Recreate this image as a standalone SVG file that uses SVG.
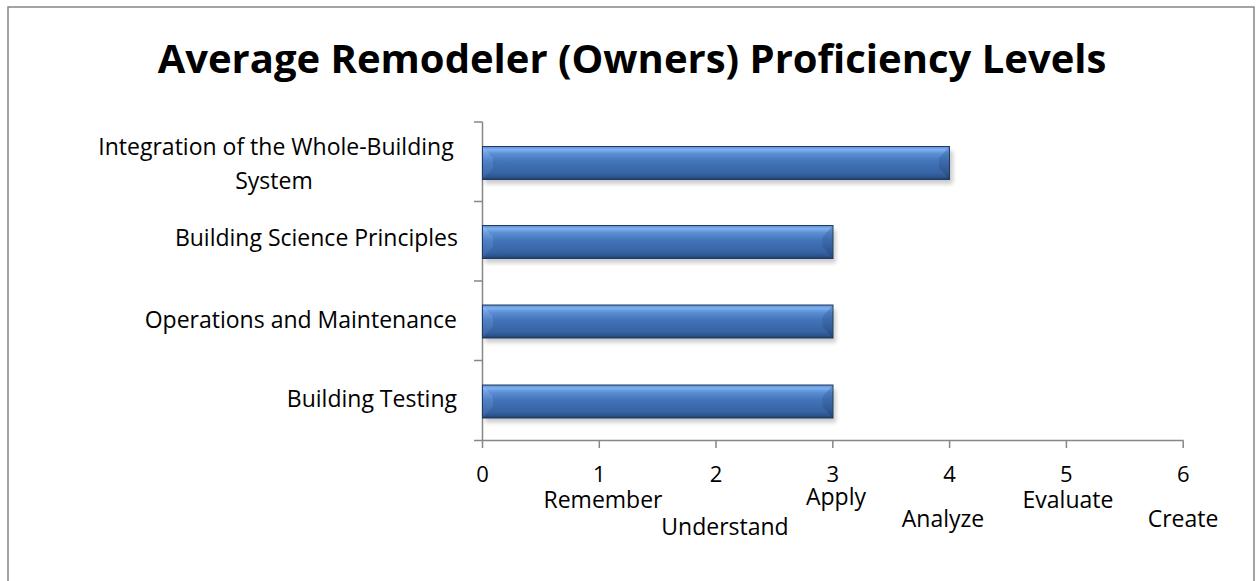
<svg xmlns="http://www.w3.org/2000/svg" width="1257" height="581" viewBox="0 0 1257 581">
  <style>
    .title { font-family: "Open Sans", "Liberation Sans", sans-serif; font-weight: bold; font-size: 40px; fill: #000; }
    .lbl { font-family: "Open Sans", "Liberation Sans", sans-serif; font-size: 23px; fill: #000; }
    .num { font-family: "Open Sans", "Liberation Sans", sans-serif; font-size: 22px; fill: #000; }
    .axis { stroke: #878787; stroke-width: 1.5; fill: none; }
    .bar { fill: url(#barGrad); stroke: #1e3a63; stroke-width: 1; }
    .bevL { fill: url(#bevLGrad); }
    .bevR { fill: url(#bevRGrad); }
    .shadow { fill: #000; opacity: 0.2; filter: url(#blur); }
  </style>
  <defs>
    <linearGradient id="barGrad" x1="0" y1="0" x2="0" y2="1">
      <stop offset="0" stop-color="#5d8fd2"/>
      <stop offset="0.1" stop-color="#7fb0ef"/>
      <stop offset="0.22" stop-color="#5b8ed4"/>
      <stop offset="0.45" stop-color="#4274b9"/>
      <stop offset="0.8" stop-color="#3764a4"/>
      <stop offset="0.92" stop-color="#2d5690"/>
      <stop offset="1" stop-color="#1f3c68"/>
    </linearGradient>
    <linearGradient id="bevLGrad" x1="0" y1="0" x2="0" y2="1">
      <stop offset="0" stop-color="#9cc6f7" stop-opacity="0.45"/>
      <stop offset="0.5" stop-color="#6b9cdd" stop-opacity="0.3"/>
      <stop offset="1" stop-color="#4a7cc0" stop-opacity="0.25"/>
    </linearGradient>
    <linearGradient id="bevRGrad" x1="0" y1="0" x2="0" y2="1">
      <stop offset="0" stop-color="#1f3d6c" stop-opacity="0.25"/>
      <stop offset="0.5" stop-color="#1f3d6c" stop-opacity="0.2"/>
      <stop offset="1" stop-color="#14294a" stop-opacity="0.3"/>
    </linearGradient>
    <filter id="blur" x="-5%" y="-50%" width="110%" height="200%">
      <feGaussianBlur stdDeviation="2"/>
    </filter>
  </defs>

  <rect id="frame" x="8" y="7" width="1246" height="600" fill="#fff" stroke="#878787" stroke-width="1.5"/>

  <g id="title">
    <text class="title" x="632" y="73" text-anchor="middle">Average Remodeler (Owners) Proficiency Levels</text>
  </g>

  <g id="axes">
    <path class="axis" d="M482.5 122 V440.5 M474 122 H482.5 M474 201.5 H482.5 M474 281 H482.5 M474 360.5 H482.5 M474 440.5 H1183.5"/>
    <path class="axis" d="M482.5 440.5 V448 M599.3 440.5 V448 M716 440.5 V448 M832.8 440.5 V448 M949.6 440.5 V448 M1066.4 440.5 V448 M1183.2 440.5 V448"/>
  </g>

  <g id="category-labels">
    <text class="lbl" x="276" y="155" text-anchor="middle">Integration of the Whole-Building</text>
    <text class="lbl" x="274" y="189" text-anchor="middle">System</text>
    <text class="lbl" x="458" y="246" text-anchor="end">Building Science Principles</text>
    <text class="lbl" x="457" y="328" text-anchor="end">Operations and Maintenance</text>
    <text class="lbl" x="457" y="407" text-anchor="end">Building Testing</text>
  </g>

  <g id="value-labels">
    <text class="num" x="482.5" y="482" text-anchor="middle">0</text>
    <text class="num" x="599.3" y="482" text-anchor="middle">1</text>
    <text class="lbl" x="603" y="508" text-anchor="middle">Remember</text>
    <text class="num" x="716" y="482" text-anchor="middle">2</text>
    <text class="lbl" x="725" y="535" text-anchor="middle">Understand</text>
    <text class="num" x="832.8" y="482" text-anchor="middle">3</text>
    <text class="lbl" x="836" y="505" text-anchor="middle">Apply</text>
    <text class="num" x="949.6" y="482" text-anchor="middle">4</text>
    <text class="lbl" x="943" y="527" text-anchor="middle">Analyze</text>
    <text class="num" x="1066.4" y="482" text-anchor="middle">5</text>
    <text class="lbl" x="1068" y="508" text-anchor="middle">Evaluate</text>
    <text class="num" x="1183.2" y="482" text-anchor="middle">6</text>
    <text class="lbl" x="1183" y="527" text-anchor="middle">Create</text>
  </g>

  <g id="bar-integration">
    <rect class="shadow" x="485" y="151" width="468" height="33"/>
    <rect class="bar" x="482.5" y="146.5" width="467" height="33"/>
    <polygon class="bevL" points="483,147 493,158 493,168 483,179"/>
    <polygon class="bevR" points="949,147 939,158 939,168 949,179"/>
  </g>
  <g id="bar-science">
    <rect class="shadow" x="485" y="230" width="351" height="33"/>
    <rect class="bar" x="482.5" y="225.5" width="350.5" height="33"/>
    <polygon class="bevL" points="483,226 493,237 493,247 483,258"/>
    <polygon class="bevR" points="832.5,226 822.5,237 822.5,247 832.5,258"/>
  </g>
  <g id="bar-operations">
    <rect class="shadow" x="485" y="309.5" width="351" height="33"/>
    <rect class="bar" x="482.5" y="305" width="350.5" height="33"/>
    <polygon class="bevL" points="483,305.5 493,316.5 493,326.5 483,337.5"/>
    <polygon class="bevR" points="832.5,305.5 822.5,316.5 822.5,326.5 832.5,337.5"/>
  </g>
  <g id="bar-testing">
    <rect class="shadow" x="485" y="389.5" width="351" height="33"/>
    <rect class="bar" x="482.5" y="385" width="350.5" height="33"/>
    <polygon class="bevL" points="483,385.5 493,396.5 493,406.5 483,417.5"/>
    <polygon class="bevR" points="832.5,385.5 822.5,396.5 822.5,406.5 832.5,417.5"/>
  </g>
</svg>
